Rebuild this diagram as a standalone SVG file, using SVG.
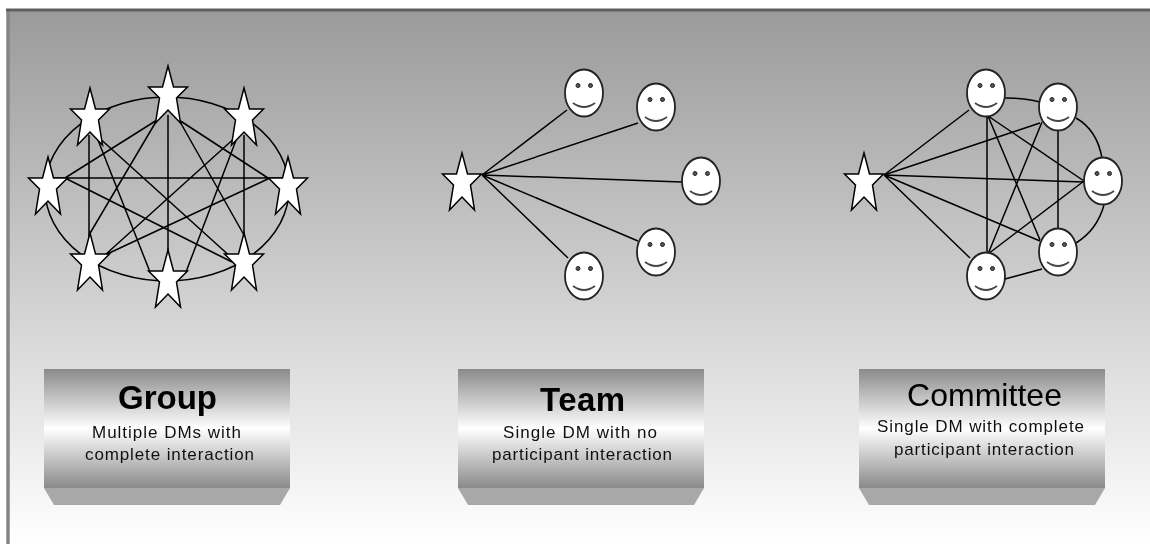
<svg xmlns="http://www.w3.org/2000/svg" xmlns:xlink="http://www.w3.org/1999/xlink" width="1150" height="544" viewBox="0 0 1150 544">
<defs>
<linearGradient id="bg" x1="0" y1="0" x2="0" y2="1"><stop offset="0" stop-color="#9a9a9a"/><stop offset="1" stop-color="#ffffff"/></linearGradient>
<linearGradient id="box" x1="0" y1="0" x2="0" y2="1"><stop offset="0" stop-color="#8a8a8a"/><stop offset="0.5" stop-color="#ffffff"/><stop offset="1" stop-color="#8a8a8a"/></linearGradient>
<filter id="soft" x="-2%" y="-2%" width="104%" height="104%"><feGaussianBlur stdDeviation="0.6"/></filter>
<path id="star" d="M0,0 L5.500,21 H19.500 L8.500,32 L12.500,57 L0,44 L-12.500,57 L-8.500,32 L-19.500,21 H-5.500 Z" fill="#fff" stroke="#000" stroke-width="1.500"/>
<g id="face">
<ellipse cx="0" cy="0" rx="19" ry="23.500" fill="#fff" stroke="#222" stroke-width="1.800"/>
<circle cx="-6" cy="-7.500" r="2" fill="#555" stroke="#222"/><circle cx="6.500" cy="-7.500" r="2" fill="#555" stroke="#222"/>
<path d="M-11,10 Q0,18 11,10" fill="none" stroke="#444" stroke-width="1.800"/>
</g>
<g id="base"><path d="M0,119 H246 L236,136 H10 Z" fill="#a8a8a8"/><rect width="246" height="119" fill="url(#box)"/></g>
</defs>
<style>
.l{stroke:#000;stroke-width:1.500;fill:none}
.t{font-family:"Liberation Sans",Arial,sans-serif;text-anchor:middle;fill:#000}
.h{font-size:33px;font-weight:bold}
.c{font-size:32px}
.s{font-size:17px;fill:#111}
</style>
<rect x="0" y="0" width="1150" height="544" fill="#fff"/>
<rect id="panel" x="8" y="10" width="1142" height="534" fill="url(#bg)"/>
<path id="frame-left" d="M8,10V544" stroke="#858585" stroke-width="3.500" fill="none"/>
<path id="frame-top" d="M6,10H1150" stroke="#5f5f5f" stroke-width="3" fill="none"/>
<g filter="url(#soft)">
<g id="connectors" class="l">
<ellipse cx="167" cy="189" rx="122" ry="92"/>
<path d="M89,135V240M168,115V255M244,135V240M48,178H288M157,120L65,178M157,120L89,235M179,120L268,178M179,120L244,235M96,135L150,272M238,135L186,272M96,135L233,259M238,135L105,255M65,178L232,262M270,178L105,255"/>
<path d="M482,175L567,110M482,175L638,123M482,175L682,182M482,175L638,241M482,175L568,258"/>
<path d="M884,175L969,110M884,175L1040,123M884,175L1084,182M884,175L1040,241M884,175L970,258"/>
<path d="M1005,98Q1025,98 1040,102M1076,118Q1097,130 1102,158M1104,205Q1097,230 1076,243M1005,279L1042,269"/>
<path d="M987,116V254M988,116L1040,240M988,116L1084,181M1042,122L988,254M1058,130V230M1084,181L988,254"/>
</g>
<g id="group-stars">
<use id="s1" xlink:href="#star" x="168" y="66"/>
<use id="s2" xlink:href="#star" x="90" y="88"/>
<use id="s3" xlink:href="#star" x="244" y="88"/>
<use id="s4" xlink:href="#star" x="48" y="157"/>
<use id="s5" xlink:href="#star" x="288" y="157"/>
<use id="s6" xlink:href="#star" x="90" y="233"/>
<use id="s7" xlink:href="#star" x="168" y="250"/>
<use id="s8" xlink:href="#star" x="244" y="233"/>
</g>
<g id="team-nodes">
<use id="t0" xlink:href="#star" x="462" y="153"/>
<use id="t1" xlink:href="#face" x="584" y="93"/>
<use id="t2" xlink:href="#face" x="656" y="107"/>
<use id="t3" xlink:href="#face" x="701" y="181"/>
<use id="t4" xlink:href="#face" x="656" y="252"/>
<use id="t5" xlink:href="#face" x="584" y="276"/>
</g>
<g id="committee-nodes">
<use id="c0" xlink:href="#star" x="864" y="153"/>
<use id="c1" xlink:href="#face" x="986" y="93"/>
<use id="c2" xlink:href="#face" x="1058" y="107"/>
<use id="c3" xlink:href="#face" x="1103" y="181"/>
<use id="c4" xlink:href="#face" x="1058" y="252"/>
<use id="c5" xlink:href="#face" x="986" y="276"/>
</g>
<g id="box-group"><use xlink:href="#base" x="44" y="369"/>
<text class="t h" x="167.500" y="409" textLength="99">Group</text>
<text class="t s" x="166.500" y="438" textLength="149">Multiple DMs with</text>
<text class="t s" x="169.500" y="460" textLength="169">complete interaction</text></g>
<g id="box-team"><use xlink:href="#base" x="458" y="369"/>
<text class="t h" x="582.500" y="411" textLength="85">Team</text>
<text class="t s" x="580" y="438" textLength="154">Single DM with no</text>
<text class="t s" x="582" y="460" textLength="180">participant interaction</text></g>
<g id="box-committee"><use xlink:href="#base" x="859" y="369"/>
<text class="t c" x="984.500" y="406" textLength="155">Committee</text>
<text class="t s" x="980.500" y="432" textLength="207">Single DM with complete</text>
<text class="t s" x="984" y="455" textLength="180">participant interaction</text></g>
</g>
</svg>
